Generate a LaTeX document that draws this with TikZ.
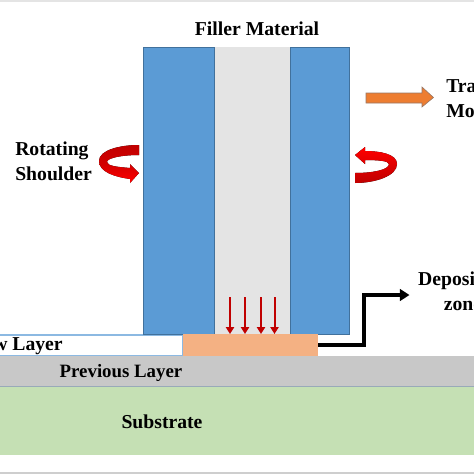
\documentclass[tikz,border=0pt]{standalone}
\usepackage{fontspec}
\setmainfont{Liberation Serif}
\usetikzlibrary{arrows.meta,positioning}
\definecolor{toolblue}{HTML}{5B9BD5}
\definecolor{tooledge}{HTML}{41719C}
\definecolor{fillergrey}{HTML}{E4E4E4}
\definecolor{depoorange}{HTML}{F4B183}
\definecolor{layergrey}{HTML}{C8C8C8}
\definecolor{subgreen}{HTML}{C5E0B4}
\definecolor{travorange}{HTML}{ED7D31}
\definecolor{feedred}{HTML}{C00000}
\tikzset{
  block/.style={anchor=north west,inner sep=0pt,outer sep=0pt},
  lbl/.style={text=black,inner sep=0pt,align=center,
    font=\fontsize{14}{17.8}\selectfont\bfseries},
  feedarrow/.style={feedred,line width=.5mm,-{Triangle[length=1.7mm,width=2mm]}},
}
\newlength{\px}
\setlength{\px}{.025cm}

\begin{document}
\begin{tikzpicture}[x=.025cm,y=-.025cm]
    \useasboundingbox (0,0) rectangle (474,474);
    \clip (0,0) rectangle (474,474);
    \fill[fillergrey] (0,0) rectangle (474,2);
    \fill[layergrey!90] (0,471.5) rectangle (474,474);
    % layers
    \node[block,fill=white,draw=toolblue!70,line width=.3mm,minimum width=186*\px,minimum height=21*\px] (newlayer) at (-3,335) {};
    \node[block,fill=layergrey,minimum width=474*\px,minimum height=30*\px] (prevlayer) at (0,356) {};
    \node[block,fill=subgreen,minimum width=474*\px,minimum height=69*\px] (substrate) at (0,386) {};
    \draw[tooledge!35!layergrey,line width=.25mm] (prevlayer.south west) -- (prevlayer.south east);
    % tool
    \node[block,fill=fillergrey,minimum width=76*\px,minimum height=287*\px] (filler) at (214,47) {};
    \node[block,fill=toolblue,draw=tooledge,minimum width=71*\px,minimum height=287*\px] (shoulderL) at (143,47) {};
    \node[block,fill=toolblue,draw=tooledge,minimum width=59.5*\px,minimum height=287*\px] (shoulderR) at (290,47) {};
    \node[block,fill=depoorange,minimum width=135*\px,minimum height=22*\px] (depo) at (183,334) {};
    % feed arrows
    \foreach \x [count=\i] in {230,245,261,274.5}{
      \coordinate (feedtop\i) at (\x,297);
      \coordinate (feedend\i) at (\x,334);
      \draw[feedarrow] (feedtop\i) -- (feedend\i);
    }
    % rotation arrows
    \fill[top color=feedred,bottom color=red,middle color=feedred!70!red]
      (139,145) .. controls (120,145) and (99,150) .. (99,161)
      .. controls (99,172) and (115,177) .. (130,179) -- (130,183) -- (139,173) -- (130,164) -- (130,168)
      .. controls (118,167) and (107,166) .. (107,162)
      .. controls (107,158) and (122,155) .. (139,155) -- cycle;
    \fill[top color=red,bottom color=feedred]
      (355,155) -- (365,147) -- (365,151)
      .. controls (380,151) and (397,154) .. (397,164)
      .. controls (397,176) and (375,183) .. (355,183) -- (355,173)
      .. controls (372,173) and (389,170) .. (389,164)
      .. controls (389,161) and (378,160) .. (365,160) -- (365,164) -- cycle;
    % travel arrow
    \filldraw[fill=travorange,draw=tooledge!50!travorange,line width=.15mm]
      (366,93) -- (422,93) -- (422,87) -- (433.5,97.5) -- (422,107) -- (422,103) -- (366,103) -- cycle;
    % labels
    \node[lbl] (fillerlabel) at (257,29) {Filler Material};
    \node[lbl,anchor=west,align=left] (shoulderlabel) at (15,161) {Rotating\\Shoulder};
    \node[lbl,anchor=west,align=left] (travlabel) at (446,98.5) {Traverse\\Movement};
    \node[lbl] (depolabel) at (463,291) {Deposition\\zone};
    \node[lbl,anchor=east] (newlabel) at (63,346) {New Layer};
    \node[lbl,font=\fontsize{13.4}{16}\selectfont\bfseries] (prevlabel) at (121,372.5) {Previous Layer};
    \node[lbl] (sublabel) at (162,422) {Substrate};
    % connector
    \coordinate (depotip) at (409.5,295);
    \draw[line width=.8mm,-{Triangle[length=2.4mm,width=2.9mm]}]
      (depo.east) -- ++(46,0) |- (depotip);
  \end{tikzpicture}
\end{document}
